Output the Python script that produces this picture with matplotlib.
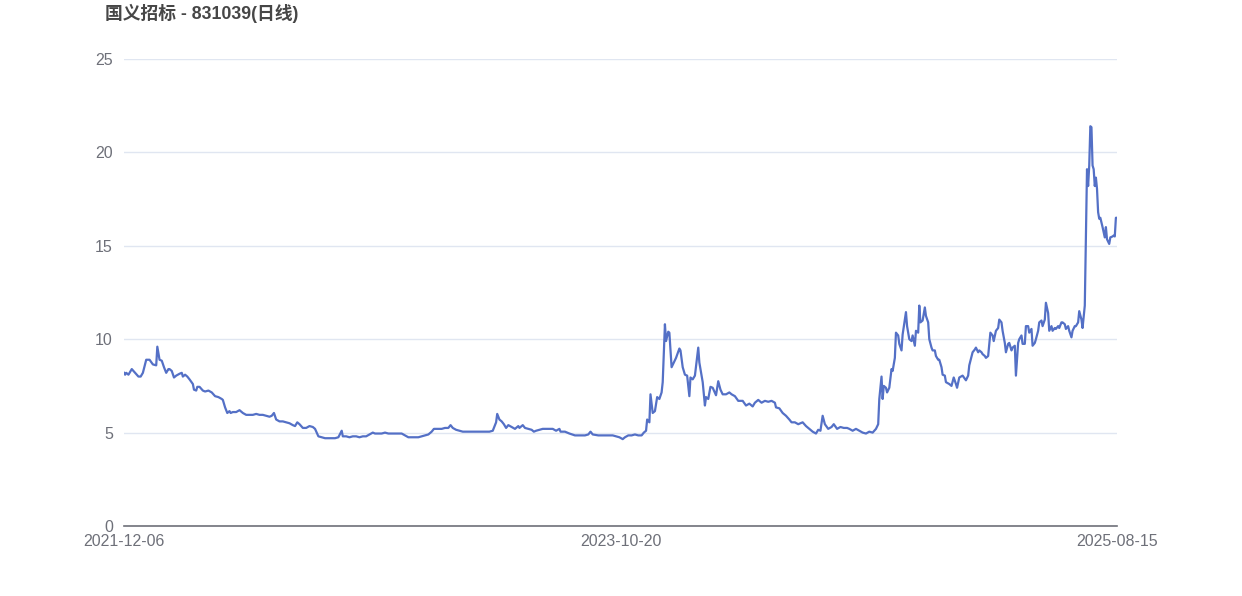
import matplotlib.pyplot as plt

# daily close of 国义招标 (831039), trading-day index -> price
title = "国义招标 - 831039(日线)"
date_labels = ["2021-12-06", "2023-10-20", "2025-08-15"]
label_idx = [0, 447, 894]

day = [
    0, 1, 2, 4, 7, 10, 13, 15, 17, 20,
    23, 26, 29, 30, 32, 34, 36, 38, 40, 41,
    43, 45, 47, 50, 52, 53, 55, 57, 59, 62,
    63, 65, 66, 68, 71, 73, 76, 79, 82, 85,
    88, 89, 91, 93, 95, 96, 98, 101, 104, 107,
    110, 113, 116, 119, 122, 125, 128, 131, 133, 135,
    137, 140, 143, 146, 149, 152, 154, 156, 158, 161,
    164, 167, 170, 172, 175, 178, 181, 184, 187, 190,
    193, 196, 197, 200, 203, 206, 209, 212, 215, 218,
    221, 224, 226, 229, 232, 235, 238, 241, 244, 247,
    250, 253, 256, 259, 262, 265, 268, 271, 274, 277,
    279, 283, 286, 289, 292, 294, 296, 299, 302, 305,
    310, 314, 319,
    325, 329, 332, 335, 336, 338, 340, 342, 344, 346,
    349, 352, 355, 356, 359, 361, 364, 367, 369, 371,
    374, 377, 380, 383, 386, 389, 392, 393, 397, 401,
    406, 410, 415, 418, 420, 422, 427, 431, 436, 440,
    443, 446, 449, 451, 454, 457, 460, 463, 466, 468,
    470, 471, 473, 474, 476, 478, 480, 482, 484, 485,
    487, 488, 490, 491, 493, 495, 497, 500, 501, 503,
    505, 507, 509, 510, 512, 514, 515, 517, 518, 521,
    523, 524, 526, 528, 530, 533, 535, 537, 539, 542,
    545, 547, 550, 553, 557, 560, 563, 566, 568, 571,
    572, 574, 577, 580, 583, 586, 587, 590, 593, 596,
    599, 601, 604, 607,
    611, 614, 617, 620, 623, 625, 627, 629, 631, 634,
    637, 639, 642, 645, 648, 651, 653, 656, 659, 662,
    665, 668, 671, 674, 677, 679, 680, 682, 683, 684,
    686, 687, 689, 691, 692, 694, 695, 697, 698, 700,
    701, 704, 705, 707, 709, 710, 712, 713, 715, 716,
    717, 719, 721, 722, 724, 725, 727, 728, 730, 731,
    733, 734, 736, 737, 739, 740, 743,
    745, 747, 749, 750, 752, 755, 758, 760, 761, 764,
    766, 767, 769, 770, 772, 773, 775, 776, 778, 779,
    780, 782, 783, 785, 787, 788, 790, 791, 793, 794,
    796, 797, 799, 800, 802, 803, 805, 806, 808, 809,
    811, 812, 814, 815, 817, 818, 820, 821, 823, 824,
    826, 827, 829, 830, 832, 833, 835, 836, 838, 839,
    841, 842, 844, 845, 847, 848, 850, 851, 853, 854,
    856, 857, 859, 860, 862, 863, 865, 867, 868,
    869, 870, 871, 872, 873, 874, 875, 876, 877, 878,
    879, 880, 881, 883, 884, 885, 887, 888, 890, 891,
    892, 893, 894,
]

close = [
    8.2, 8.1, 8.2, 8.1, 8.4, 8.2, 8.0, 8.0, 8.2, 8.9,
    8.9, 8.65, 8.6, 9.6, 8.9, 8.85, 8.5, 8.2, 8.4, 8.4,
    8.3, 7.95, 8.05, 8.15, 8.2, 8.0, 8.1, 8.0, 7.85, 7.6,
    7.3, 7.25, 7.45, 7.45, 7.25, 7.2, 7.25, 7.15, 6.95, 6.9,
    6.8, 6.75, 6.35, 6.05, 6.15, 6.05, 6.1, 6.1, 6.2, 6.05,
    5.95, 5.95, 5.95, 6.0, 5.95, 5.95, 5.9, 5.85, 5.9, 6.05,
    5.7, 5.6, 5.6, 5.55, 5.5, 5.4, 5.35, 5.55, 5.45, 5.25,
    5.25, 5.35, 5.3, 5.2, 4.8, 4.75, 4.7, 4.7, 4.7, 4.7,
    4.75, 5.1, 4.8, 4.8, 4.75, 4.8, 4.8, 4.75, 4.8, 4.8,
    4.9, 5.0, 4.95, 4.95, 4.95, 5.0, 4.95, 4.95, 4.95, 4.95,
    4.95, 4.85, 4.75, 4.75, 4.75, 4.75, 4.8, 4.85, 4.9, 5.05,
    5.2, 5.2, 5.2, 5.25, 5.25, 5.4, 5.25, 5.15, 5.1, 5.05,
    5.05, 5.05, 5.05,
    5.05, 5.05, 5.1, 5.55, 6.0, 5.7, 5.6, 5.45, 5.25, 5.4,
    5.3, 5.2, 5.35, 5.25, 5.4, 5.25, 5.2, 5.15, 5.05, 5.1,
    5.15, 5.2, 5.2, 5.2, 5.2, 5.1, 5.2, 5.05, 5.05, 4.95,
    4.85, 4.85, 4.85, 4.9, 5.05, 4.9, 4.85, 4.85, 4.85, 4.85,
    4.8, 4.75, 4.65, 4.75, 4.85, 4.85, 4.9, 4.85, 4.85, 5.0,
    5.1, 5.7, 5.55, 7.05, 6.05, 6.15, 6.9, 6.8, 7.15, 7.7,
    10.8, 9.9, 10.4, 10.35, 8.5, 8.75, 9.0, 9.5, 9.4, 8.5,
    8.1, 8.05, 6.95, 7.95, 7.85, 8.05, 8.55, 9.55, 8.75, 7.7,
    6.45, 6.9, 6.8, 7.45, 7.4, 7.0, 7.75, 7.3, 7.05, 7.05,
    7.15, 7.05, 6.95, 6.7, 6.7, 6.45, 6.55, 6.4, 6.6, 6.75,
    6.7, 6.6, 6.7, 6.65, 6.7, 6.6, 6.35, 6.3, 6.05, 5.9,
    5.7, 5.55, 5.55, 5.45,
    5.55, 5.35, 5.2, 5.05, 4.95, 5.15, 5.1, 5.9, 5.45, 5.2,
    5.3, 5.45, 5.2, 5.3, 5.25, 5.25, 5.2, 5.1, 5.2, 5.1,
    5.0, 4.95, 5.05, 5.0, 5.2, 5.45, 6.8, 8.0, 6.8, 7.5,
    7.4, 7.15, 7.4, 8.4, 8.3, 9.0, 10.35, 10.2, 9.75, 9.4,
    10.25, 11.45, 10.7, 10.0, 9.9, 10.2, 9.65, 10.45, 10.35, 11.8,
    10.9, 11.0, 11.7, 11.25, 10.9, 10.0, 9.55, 9.4, 9.4, 9.1,
    8.9, 8.9, 8.5, 8.1, 8.05, 7.7, 7.6,
    7.5, 7.95, 7.6, 7.4, 7.95, 8.05, 7.8, 8.05, 8.6, 9.3,
    9.45, 9.55, 9.3, 9.4, 9.3, 9.2, 9.1, 9.0, 9.1, 9.75,
    10.35, 10.2, 9.9, 10.45, 10.6, 11.05, 10.9, 10.45, 9.8, 9.3,
    9.75, 9.8, 9.4, 9.55, 9.65, 8.05, 9.8, 10.0, 10.2, 9.75,
    9.75, 10.7, 10.7, 10.35, 10.55, 9.65, 9.8, 10.0, 10.45, 10.9,
    11.0, 10.7, 11.05, 11.95, 11.4, 10.45, 10.7, 10.45, 10.6, 10.55,
    10.7, 10.6, 10.9, 10.9, 10.8, 10.55, 10.7, 10.45, 10.1, 10.45,
    10.7, 10.7, 10.9, 11.5, 11.05, 10.6, 11.8, 19.1, 18.2,
    19.3, 21.4, 21.35, 19.3, 19.1, 18.2, 18.65, 18.05, 16.8, 16.45,
    16.5, 16.25, 16.0, 15.45, 16.0, 15.35, 15.1, 15.45, 15.5, 15.55,
    15.5, 16.5, 16.5,
]

assert len(day) == len(close)

grey = "#6e7079"
font = ["Liberation Sans", "Noto Sans CJK SC", "DejaVu Sans"]

fig = plt.figure(figsize=(12.42, 5.96), dpi=100)
ax = fig.add_axes([124 / 1242, 70 / 596, 993 / 1242, 467 / 596])

ax.plot(day, close, color="#5470c6", linewidth=1.6, solid_joinstyle="round")

ax.set_xlim(label_idx[0], label_idx[-1])
ax.set_ylim(0, 25)
ax.set_yticks([0, 5, 10, 15, 20, 25])
ax.set_xticks(label_idx)
ax.set_xticklabels(date_labels)

# grid + axis look
ax.grid(axis="y", color="#e0e6f1", linewidth=1)
ax.set_axisbelow(True)
for side in ["top", "right", "left"]:
    ax.spines[side].set_visible(False)
ax.spines["bottom"].set_color(grey)
ax.spines["bottom"].set_linewidth(1.2)
ax.tick_params(axis="both", length=0, colors=grey, labelsize=11.5)
ax.tick_params(axis="y", pad=8)
ax.tick_params(axis="x", pad=6)
for lbl in ax.get_xticklabels() + ax.get_yticklabels():
    lbl.set_family(font)

fig.text(105 / 1242, 1 - 13 / 596, title, ha="left", va="center",
         fontsize=12.8, fontweight="bold", color="#464646", family=font)

fig.savefig("out.png", dpi=100)
